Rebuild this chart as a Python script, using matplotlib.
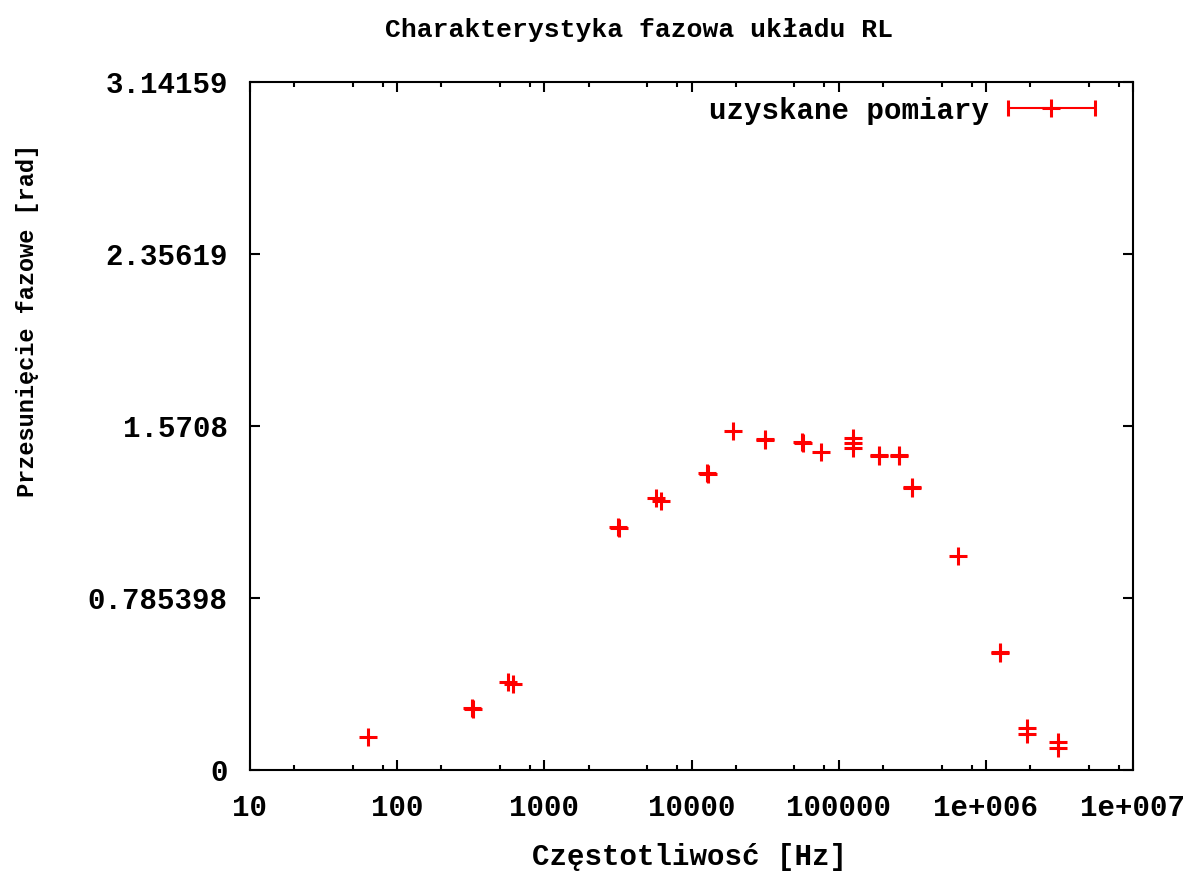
import numpy as np
import matplotlib
matplotlib.use("Agg")
import matplotlib.pyplot as plt
from matplotlib.ticker import FixedLocator, FixedFormatter, LogLocator, NullFormatter
from matplotlib.container import ErrorbarContainer
from matplotlib.legend_handler import HandlerErrorbar

# measured points (several frequencies were measured more than once)
freq = [63, 320, 326, 566, 613, 3150, 3200, 5730, 6200, 12700, 12900,
        19100, 31500, 31800, 56500, 57500, 75700, 124700, 124700, 124700,
        187500, 187500, 256600, 256600, 314000, 314000, 645600,
        1245000, 1245000, 1900000, 1900000, 3080000, 3080000]
phase = [0.151, 0.283, 0.278, 0.402, 0.393, 1.110, 1.104, 1.242, 1.228,
         1.356, 1.350, 1.548, 1.511, 1.506, 1.498, 1.492, 1.452,
         1.516, 1.493, 1.470, 1.438, 1.432, 1.438, 1.432, 1.292, 1.286,
         0.977, 0.539, 0.533, 0.192, 0.164, 0.128, 0.100]
freq_err = [0.5, 2, 2, 4, 4, 20, 20, 40, 40, 80, 80,
            100, 200, 200, 300, 300, 400, 600, 600, 600,
            900, 900, 1200, 1200, 1500, 1500, 3000,
            6000, 6000, 9000, 9000, 15000, 15000]

x_ticks = [10, 100, 1000, 10000, 100000, 1e6, 1e7]
x_labels = ["10", "100", "1000", "10000", "100000", "1e+006", "1e+007"]
y_ticks = [0, np.pi / 4, np.pi / 2, 3 * np.pi / 4, np.pi]
y_labels = ["0", "0.785398", "1.5708", "2.35619", "3.14159"]

font = "Liberation Mono"
fs = 21


def legend_caps(handle, orig):
    handle.update_from(orig)
    # bigger end caps only in the legend sample
    if hasattr(handle, "get_marker") and handle.get_marker() == "|":
        handle.set_markersize(11)


fig = plt.figure(figsize=(11.94, 8.76), dpi=100)
ax = fig.add_axes([250 / 1194, 1 - 770 / 876, 883 / 1194, 688 / 876])

eb = ax.errorbar(freq, phase, xerr=freq_err, fmt="+", color="red",
                 ms=13, mew=2.2, elinewidth=1.5, capsize=1, capthick=1.5,
                 label="uzyskane pomiary")

ax.set_xscale("log")
ax.set_xlim(10, 1e7)
ax.set_ylim(0, np.pi)

ax.xaxis.set_major_locator(FixedLocator(x_ticks))
ax.xaxis.set_major_formatter(FixedFormatter(x_labels))
ax.xaxis.set_minor_locator(LogLocator(base=10, subs=[2, 5, 8]))
ax.xaxis.set_minor_formatter(NullFormatter())
ax.yaxis.set_major_locator(FixedLocator(y_ticks))
ax.yaxis.set_major_formatter(FixedFormatter(y_labels))

ax.tick_params(which="both", direction="in", top=True, right=True, width=1.5)
ax.tick_params(which="major", length=7.5)
ax.tick_params(which="minor", length=3.8)
ax.tick_params(axis="x", pad=17)
ax.tick_params(axis="y", pad=16)
for lab in ax.get_xticklabels() + ax.get_yticklabels():
    lab.set_fontfamily(font)
    lab.set_fontweight("bold")
    lab.set_fontsize(fs)
for sp in ax.spines.values():
    sp.set_linewidth(1.5)

fig.text(639 / 1194, 1 - 30 / 876, "Charakterystyka fazowa układu RL",
         ha="center", va="center", fontfamily=font, fontweight="bold", fontsize=19)
fig.text(690 / 1194, 1 - 857 / 876, "Częstotliwosć [Hz]",
         ha="center", va="center", fontfamily=font, fontweight="bold", fontsize=fs)
fig.text(28 / 1194, 1 - 320 / 876, "Przesunięcie fazowe [rad]", rotation=90,
         ha="center", va="center", fontfamily=font, fontweight="bold", fontsize=17)

leg = ax.legend(loc="upper right", bbox_to_anchor=(1.0, 1.034), frameon=False,
                numpoints=1, markerfirst=False, handlelength=3.0,
                handletextpad=0.65, borderaxespad=0.9,
                handler_map={ErrorbarContainer: HandlerErrorbar(xerr_size=1.5,
                                                                update_func=legend_caps)},
                prop={"family": font, "weight": "bold", "size": fs})

fig.savefig("out.png", dpi=100)
